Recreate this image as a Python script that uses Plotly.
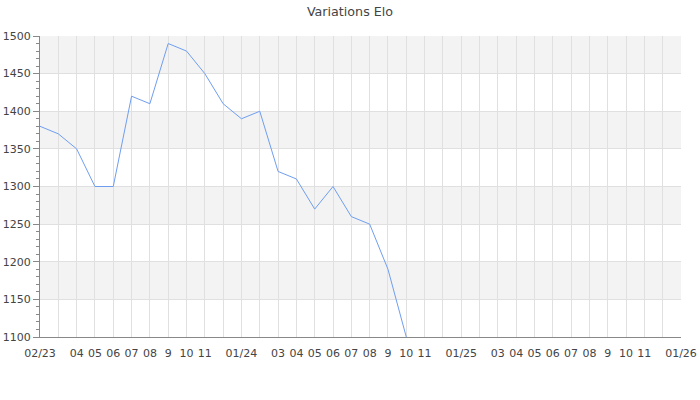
import plotly.graph_objects as go

months = ["2023-02", "2023-03", "2023-04", "2023-05", "2023-06", "2023-07", "2023-08", "2023-09",
          "2023-10", "2023-11", "2023-12", "2024-01", "2024-02", "2024-03", "2024-04", "2024-05",
          "2024-06", "2024-07", "2024-08", "2024-09", "2024-10", "2024-11", "2024-12", "2025-01",
          "2025-02", "2025-03", "2025-04", "2025-05", "2025-06", "2025-07", "2025-08", "2025-09",
          "2025-10", "2025-11", "2025-12", "2026-01"]
tick_labels = ["02/23", "", "04", "05", "06", "07", "08", "9", "10", "11", "", "01/24",
               "", "03", "04", "05", "06", "07", "08", "9", "10", "11", "", "01/25",
               "", "03", "04", "05", "06", "07", "08", "9", "10", "11", "", "01/26"]

elo_months = months[:21]
elo_values = [1380, 1370, 1350, 1300, 1300, 1420, 1410, 1490, 1480, 1450, 1410, 1390,
              1400, 1320, 1310, 1270, 1300, 1260, 1250, 1190, 1100]

y_ticks = [1100, 1150, 1200, 1250, 1300, 1350, 1400, 1450, 1500]

fig = go.Figure()
fig.add_trace(go.Scatter(x=elo_months, y=elo_values, mode="lines",
                         line=dict(color="#6f9ef0", width=1), hoverinfo="x+y"))

shapes = []
for i in range(len(y_ticks) - 1):
    if (len(y_ticks) - 2 - i) % 2 == 0:
        shapes.append(dict(type="rect", xref="paper", yref="y", x0=0, x1=1,
                           y0=y_ticks[i], y1=y_ticks[i + 1], fillcolor="#f3f3f3",
                           line=dict(width=0), layer="below"))

fig.update_layout(
    width=700, height=400,
    margin=dict(l=40, r=19, t=36, b=63),
    paper_bgcolor="white", plot_bgcolor="white",
    title=dict(text="Variations Elo", x=0.5, xanchor="center", y=0.97, yanchor="middle",
               yref="container", automargin=False,
               font=dict(family="DejaVu Sans", size=12.7, color="#444")),
    font=dict(family="DejaVu Sans", size=11, color="#444"),
    showlegend=False,
    shapes=shapes,
    xaxis=dict(type="category", categoryorder="array", categoryarray=months,
               tickvals=months, ticktext=tick_labels, range=[0, len(months) - 1],
               showgrid=True, gridcolor="#e0e0e0", gridwidth=1,
               showline=True, linecolor="#888", linewidth=1, automargin=False,
               ticks="", tickangle=0, ticklabelstandoff=6, zeroline=False, layer="below traces"),
    yaxis=dict(range=[1100, 1500], tickvals=y_ticks, automargin=False,
               showgrid=True, gridcolor="#e0e0e0", gridwidth=1,
               showline=True, linecolor="#888", linewidth=1,
               ticks="outside", ticklen=6, tickcolor="#888", ticklabelstandoff=0,
               minor=dict(dtick=10, ticks="outside", ticklen=3, tickcolor="#888", showgrid=False),
               zeroline=False),
)

fig.write_html("out.html", config={"displayModeBar": False},
               post_script="document.body.style.margin='0';")
